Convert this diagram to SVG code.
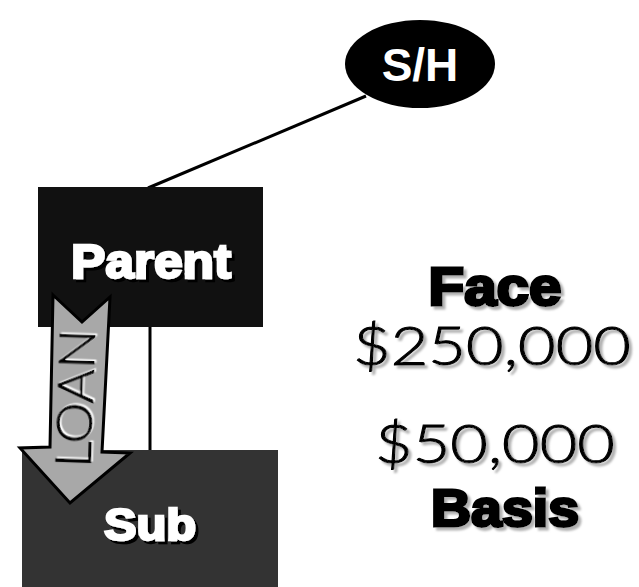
<svg xmlns="http://www.w3.org/2000/svg" width="639" height="587" viewBox="0 0 639 587">
<defs>
<style>
.heavy{font-family:"Liberation Sans",Arial,sans-serif;font-weight:bold;text-anchor:middle}
.light{font-family:Lato,"Liberation Sans",sans-serif;font-weight:300;text-anchor:middle;fill:#000;stroke:#000;stroke-width:1}
.conn{stroke:#000;stroke-width:3;fill:none}
</style>
<filter id="shGray" x="-10%" y="-10%" width="130%" height="140%"><feDropShadow dx="3" dy="3" stdDeviation="0.8" flood-color="#b0b0b0"/></filter>
<filter id="shDark" x="-10%" y="-10%" width="130%" height="140%"><feDropShadow dx="3" dy="3" stdDeviation="0.6" flood-color="#000"/></filter>
<filter id="shWhite" x="-20%" y="-10%" width="140%" height="130%"><feDropShadow dx="1.5" dy="1.5" stdDeviation="0.3" flood-color="#fff"/></filter>
</defs>
<rect width="639" height="587" fill="#fff"/>
<g id="connectors">
<line class="conn" x1="366" y1="96" x2="148" y2="188"/>
<line class="conn" x1="150" y1="326" x2="150" y2="452"/>
</g>
<g id="sh">
<ellipse cx="420" cy="64" rx="75" ry="44" fill="#000"/>
<text class="heavy" x="420" y="81" font-size="46" fill="#fff">S/H</text>
</g>
<g id="parent">
<rect x="38" y="187" width="225" height="140" fill="#111"/>
<text class="heavy" x="151" y="278" font-size="48" fill="#fff" stroke="#fff" stroke-width="2.5" textLength="160" lengthAdjust="spacingAndGlyphs" filter="url(#shDark)">Parent</text>
</g>
<g id="sub">
<rect x="22" y="450" width="256" height="137" fill="#333"/>
<text class="heavy" x="150" y="540" font-size="44" fill="#fff" stroke="#fff" stroke-width="2.5" textLength="92" lengthAdjust="spacingAndGlyphs" filter="url(#shDark)">Sub</text>
</g>
<g id="loan">
<polygon points="53,295 82,322 110,297 102,452 130,453 70,503 20,448 50,447" fill="#a8a8a8" stroke="#000" stroke-width="3" stroke-linejoin="miter"/>
<text class="light" transform="translate(93,399) rotate(-88)" font-size="50" fill="#111" textLength="138" lengthAdjust="spacingAndGlyphs" filter="url(#shWhite)">LOAN</text>
</g>
<g id="values">
<text class="heavy" x="495" y="305" font-size="53" fill="#000" stroke="#000" stroke-width="3" textLength="133" lengthAdjust="spacingAndGlyphs" filter="url(#shGray)">Face</text>
<text class="light" x="492" y="365" font-size="54" textLength="278" lengthAdjust="spacingAndGlyphs" filter="url(#shGray)">$250,000</text>
<text class="light" x="495" y="463" font-size="54" textLength="240" lengthAdjust="spacingAndGlyphs" filter="url(#shGray)">$50,000</text>
<text class="heavy" x="505" y="526" font-size="52" fill="#000" stroke="#000" stroke-width="3" textLength="148" lengthAdjust="spacingAndGlyphs" filter="url(#shGray)">Basis</text>
</g>
</svg>
